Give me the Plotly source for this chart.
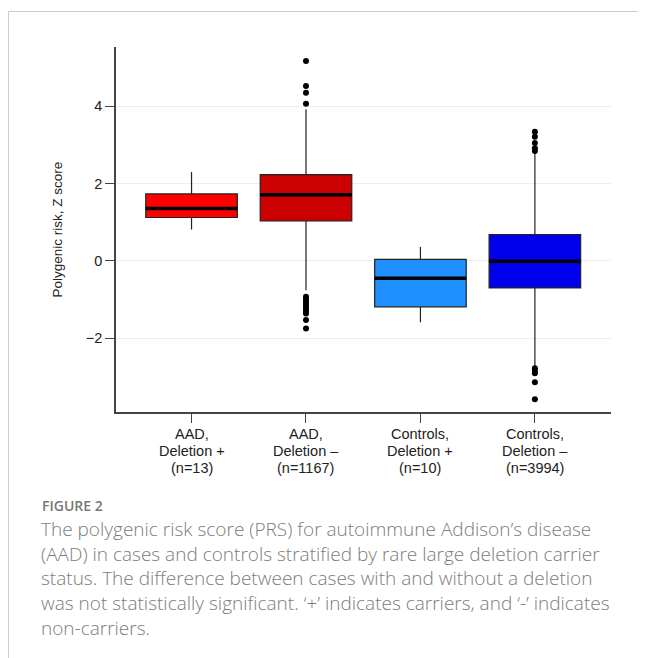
import plotly.graph_objects as go

# ---- data ----
category_lines = [
    ["AAD,", "Deletion +", "(n=13)"],
    ["AAD,", "Deletion \u2013", "(n=1167)"],
    ["Controls,", "Deletion +", "(n=10)"],
    ["Controls,", "Deletion \u2013", "(n=3994)"],
]
q1 = [1.12, 1.03, -1.19, -0.70]
median = [1.355, 1.71, -0.45, -0.01]
q3 = [1.73, 2.23, 0.035, 0.68]
lower_whisker = [0.81, -0.76, -1.59, -2.76]
upper_whisker = [2.30, 3.92, 0.36, 2.80]
outliers = [
    [],
    [5.17, 4.52, 4.35, 4.06, -0.93, -1.0, -1.06, -1.12, -1.18, -1.24, -1.30, -1.36, -1.53, -1.75],
    [],
    [3.34, 3.21, 3.05, 2.91, 2.84, -2.78, -2.84, -2.91, -3.14, -3.58],
]
box_colors = ["#FF0000", "#CC0000", "#1E90FF", "#0000EE"]
y_ticks = [-2, 0, 2, 4]

caption_head = "FIGURE 2"
caption_lines = [
    "The polygenic risk score (PRS) for autoimmune Addison\u2019s disease",
    "(AAD) in cases and controls stratified by rare large deletion carrier",
    "status. The difference between cases with and without a deletion",
    "was not statistically significant. \u2018+\u2019 indicates carriers, and \u2018-\u2019 indicates",
    "non-carriers.",
]

# ---- layout geometry (page body has an 8px margin) ----
OFF = 8
W, H = 646 - OFF, 658 - OFF
ML, MR, MT, MB = 116 - OFF, 35, 47 - OFF, 246
PW, PH = W - ML - MR, H - MT - MB


def px(x):
    return (x - OFF - ML) / PW


def py(y):
    return (H + OFF - MB - y) / PH


fig = go.Figure()
n = len(category_lines)
for i in range(n):
    fig.add_trace(go.Box(
        x=[i], q1=[q1[i]], median=[median[i]], q3=[q3[i]],
        lowerfence=[lower_whisker[i]], upperfence=[upper_whisker[i]],
        width=0.8, whiskerwidth=0, fillcolor=box_colors[i],
        line=dict(color="#222222", width=1.2), boxpoints=False,
        hoverinfo="skip", showlegend=False,
    ))
    fig.add_trace(go.Scatter(
        x=[i - 0.4, i + 0.4], y=[median[i], median[i]], mode="lines",
        line=dict(color="black", width=3.5), showlegend=False, hoverinfo="skip",
    ))
    if outliers[i]:
        fig.add_trace(go.Scatter(
            x=[i] * len(outliers[i]), y=outliers[i], mode="markers",
            marker=dict(color="black", size=6), showlegend=False, hoverinfo="skip",
        ))
    for k, t in enumerate(category_lines[i]):
        fig.add_annotation(
            text=t, xref="x", yref="paper", x=i, y=py(434 + 17 * k),
            xanchor="center", yanchor="middle", showarrow=False,
            font=dict(size=14.5, color="#222222", family="Liberation Sans, Arial, sans-serif"),
        )

fig.update_layout(
    width=W, height=H,
    margin=dict(l=ML, r=MR, t=MT, b=MB),
    paper_bgcolor="white", plot_bgcolor="white",
    font=dict(family="Liberation Sans, Arial, sans-serif", color="#222222", size=13),
    xaxis=dict(
        range=[-0.66, 3.665], tickmode="array", tickvals=list(range(n)),
        ticktext=[""] * n, showgrid=False, zeroline=False,
        showline=True, linecolor="#444444", linewidth=1.5,
        ticks="outside", ticklen=9, tickcolor="#444444", tickwidth=1.2,
    ),
    yaxis=dict(
        range=[-3.91, 5.53], tickmode="array", tickvals=y_ticks,
        showgrid=True, gridcolor="#EEEEEE", gridwidth=1, zeroline=False,
        showline=True, linecolor="#444444", linewidth=1.5,
        ticks="outside", ticklen=9, tickcolor="#444444", tickwidth=1.2,
        tickfont=dict(size=14.5, color="#222222"),
    ),
)

# y-axis title
fig.add_annotation(
    text="Polygenic risk, Z score", textangle=-90,
    xref="paper", yref="paper", x=px(57), y=py(229.5),
    xanchor="center", yanchor="middle", showarrow=False,
    font=dict(size=13.5, color="#222222", family="Liberation Sans, Arial, sans-serif"),
)

# frame lines of the figure panel
fig.add_shape(type="line", xref="paper", yref="paper", x0=px(8.5), x1=px(660), y0=py(11.5), y1=py(11.5),
              line=dict(color="#CCCCCC", width=1))
fig.add_shape(type="line", xref="paper", yref="paper", x0=px(8.5), x1=px(8.5), y0=py(11.5), y1=py(670),
              line=dict(color="#CCCCCC", width=1))

# caption
fig.add_annotation(
    text=caption_head, xref="paper", yref="paper", x=px(40), y=py(505),
    xanchor="left", yanchor="middle", showarrow=False,
    font=dict(size=14, color="#777777", family="Open Sans, sans-serif", weight=600),
)
fig.add_annotation(
    text="<br>".join(caption_lines), xref="paper", yref="paper", x=px(39), y=py(578),
    xanchor="left", yanchor="middle", align="left", showarrow=False,
    font=dict(size=19, color="#7C7C7C", family="Open Sans, sans-serif", weight=300),
)

fig.write_html("out.html")
